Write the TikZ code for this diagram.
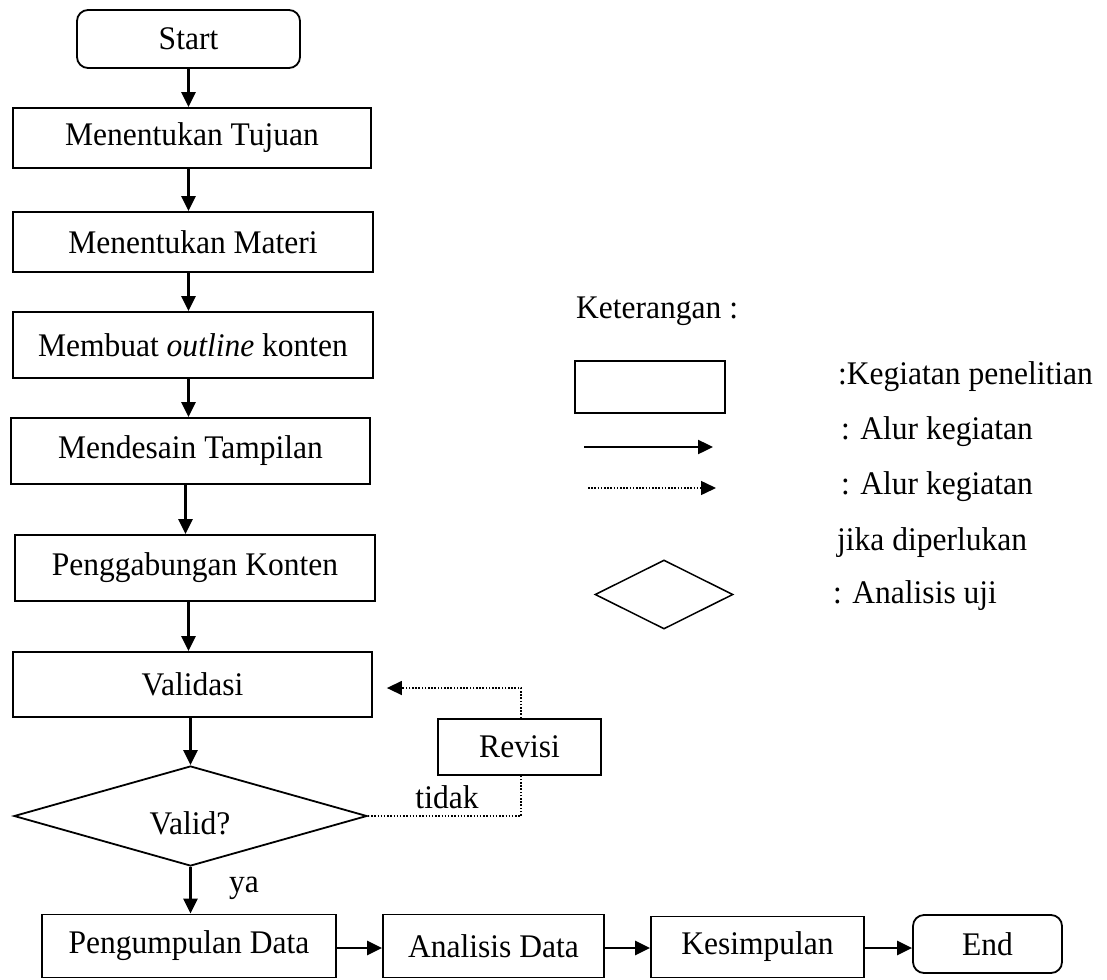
\documentclass[tikz,border=0pt]{standalone}
\usepackage{fontspec}
\setmainfont{Liberation Serif}[FakeStretch=0.955]
\usetikzlibrary{arrows.meta,shapes.geometric,calc}
\begin{document}
\begin{tikzpicture}[x=1pt,y=-1pt,
  font=\fontsize{33}{38}\selectfont,
  box/.style={draw, line width=1.8pt, rectangle, inner sep=0pt},
  term/.style={box, rounded corners=11pt},
  decision/.style={draw, line width=1.8pt, diamond, inner sep=0pt},
  arr/.style={line width=2.4pt, -{Triangle[length=15pt,width=14pt]}},
  dotarr/.style={line width=1.5pt, dash pattern=on 1.5pt off 1.7pt, -{Triangle[length=15pt,width=14pt]}},
  dotline/.style={line width=1.5pt, dash pattern=on 1.5pt off 1.7pt},
  lbl/.style={inner sep=0pt, anchor=west}
]
\useasboundingbox (0,0) rectangle (1107,979);

% main column
\node[term, minimum width=223pt, minimum height=58pt] (start) at (188.5,39) {Start};
\node[box, minimum width=358pt, minimum height=60pt] (tujuan) at (192,138) {Menentukan Tujuan};
\node[box, minimum width=360pt, minimum height=60pt] (materi) at (193,242) {Menentukan Materi};
\node[box, minimum width=360pt, minimum height=66pt] (outline) at (193,345) {Membuat \textit{outline} konten};
\node[box, minimum width=359pt, minimum height=66pt] (desain) at (190.5,451) {Mendesain Tampilan};
\node[box, minimum width=360pt, minimum height=66pt] (gabung) at (195,568) {Penggabungan Konten};
\node[box, minimum width=359pt, minimum height=65pt] (validasi) at (192.5,684.5) {Validasi};
\node[decision, minimum width=353pt, minimum height=100pt, aspect=3.53] (valid) at (190.5,816) {};
\node[inner sep=0pt] (validtxt) at (190,823) {Valid?};
\node[box, minimum width=163pt, minimum height=56pt] (revisi) at (519.5,747) {Revisi};

% bottom row
\node[box, minimum width=294pt, minimum height=63pt] (kumpul) at (189,946) {Pengumpulan Data};
\node[box, minimum width=221pt, minimum height=63pt] (analisis) at (493.5,946) {Analisis Data};
\node[box, minimum width=213pt, minimum height=61pt] (simpul) at (757.5,947) {Kesimpulan};
\node[term, minimum width=149pt, minimum height=58pt] (end) at (987.5,944) {End};

% connectors
\draw[arr] (start.south) -- (start.south |- tujuan.north);
\draw[arr] (start.south |- tujuan.south) -- (start.south |- materi.north);
\draw[arr] (start.south |- materi.south) -- (start.south |- outline.north);
\draw[arr] (start.south |- outline.south) -- (start.south |- desain.north);
\draw[arr] ([xshift=-3pt]start.south |- desain.south) -- ([xshift=-3pt]start.south |- gabung.north);
\draw[arr] (start.south |- gabung.south) -- (start.south |- validasi.north);
\draw[arr] (valid.north |- validasi.south) -- (valid.north);
\draw[arr] (valid.south) -- (valid.south |- kumpul.north);
\draw[arr] (kumpul.east |- 0,948) -- (analisis.west |- 0,948);
\draw[arr] (analisis.east |- 0,948) -- (simpul.west |- 0,948);
\draw[arr] (simpul.east |- 0,948) -- (end.west |- 0,948);

% revision loop
\coordinate (loopx) at (521,0);
\draw[dotline] (valid.east) -- (valid.east -| loopx) -- (revisi.south -| loopx);
\draw[dotarr] (revisi.north -| loopx) |- ([xshift=14pt,yshift=-3.5pt]validasi.east);

\node[inner sep=0pt] (ya) at (244,888) {ya};
\node[inner sep=0pt, anchor=base] (tidak) at (447,808) {tidak};

% legend
\node[lbl, anchor=base west] (ket) at (576,318) {Keterangan :};
\node[box, minimum width=150pt, minimum height=52pt] (legbox) at (650,387) {};
\node[lbl] (legt1) at (838,377) {:Kegiatan penelitian};
\coordinate (la1) at (584,447);
\coordinate (la2) at (713,447);
\draw[arr] (la1) -- (la2);
\node[lbl] (legt2) at (841,432) {: Alur kegiatan};
\coordinate (lb1) at (588,488);
\coordinate (lb2) at (716,488);
\draw[dotarr] (lb1) -- (lb2);
\node[lbl] (legt3) at (841,487) {: Alur kegiatan};
\node[lbl] (legt4) at (837,543) {jika diperlukan};
\node[draw, line width=1.5pt, diamond, inner sep=0pt, minimum width=138pt, minimum height=69pt, aspect=2] (legdia) at (664,594.5) {};
\node[lbl] (legt5) at (833,596) {: Analisis uji};
\end{tikzpicture}
\end{document}
